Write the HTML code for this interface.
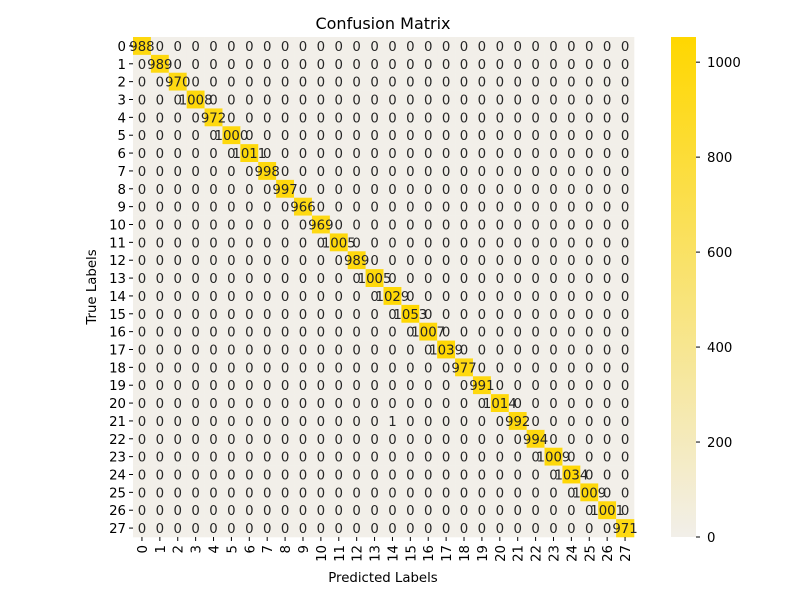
<!DOCTYPE html>
<html><head><meta charset="utf-8"><style>
body{margin:0;background:#fff;}
svg{font-family:"DejaVu Sans","Liberation Sans",sans-serif;}
</style></head><body>
<svg id="chart" width="800" height="600">
<defs><linearGradient id="cg" x1="0" y1="1" x2="0" y2="0"><stop offset="0" stop-color="#f2efe9"/><stop offset="1" stop-color="#ffd700"/></linearGradient></defs>
<text x="383" y="29" text-anchor="middle" font-size="16">Confusion Matrix</text>
<g id="cells"></g>
<g id="labels"></g>
<g id="axes"></g>
<text x="383" y="582" text-anchor="middle" font-size="13.3">Predicted Labels</text>
<text transform="translate(96,287) rotate(-90)" text-anchor="middle" font-size="13.3">True Labels</text>
<rect x="671" y="37" width="25" height="500" fill="url(#cg)"/>
<g id="cbticks"></g>
</svg>
<script>
const classes=[0,1,2,3,4,5,6,7,8,9,10,11,12,13,14,15,16,17,18,19,20,21,22,23,24,25,26,27];
const diagonalCounts=[988,989,970,1008,972,1000,1011,998,997,966,969,1005,989,1005,1029,1053,1007,1039,977,991,1014,992,994,1009,1034,1009,1001,971];
const offDiagonal=[[21,14,1]];
const colorbarTicks=[0,200,400,600,800,1000];
const vmax=1053;
const NS="http://www.w3.org/2000/svg";
const x0=133,y0=37,W=501,H=500,n=classes.length,cw=W/n,ch=H/n;
const cbTop=37,cbBot=537;
function xPos(i){return x0+i*cw;}
function yPos(i){return y0+i*ch;}
function cbY(v){return cbBot-(v/vmax)*(cbBot-cbTop);}
function color(v){const t=Math.min(1,v/vmax);const a=[242,239,233],b=[255,215,0];return`rgb(${a.map((c,k)=>Math.round(c+(b[k]-c)*t)).join(',')})`;}
const M=classes.map((_,r)=>classes.map((_,c)=>r===c?diagonalCounts[r]:0));
offDiagonal.forEach(([r,c,v])=>{M[r][c]=v;});
const cells=document.getElementById('cells'),labels=document.getElementById('labels'),axes=document.getElementById('axes'),cb=document.getElementById('cbticks');
function mk(tag,attrs,parent,txt){const e=document.createElementNS(NS,tag);for(const k in attrs)e.setAttribute(k,attrs[k]);if(txt!==undefined)e.textContent=txt;parent.appendChild(e);return e;}
for(let r=0;r<n;r++)for(let c=0;c<n;c++){
 const rc=mk('rect',{x:xPos(c),y:yPos(r),width:cw+0.3,height:ch+0.3,fill:color(M[r][c])},cells);
 
 
 const t=mk('text',{x:xPos(c)+cw/2,y:yPos(r)+ch/2+5,'text-anchor':'middle','font-size':'13.3',fill:'#262626'},labels,String(M[r][c]));
 
 
}
classes.forEach((cl,i)=>{
 mk('line',{x1:xPos(i)+cw/2,x2:xPos(i)+cw/2,y1:537,y2:541,stroke:'#000'},axes);
 const tx=mk('text',{transform:`translate(${xPos(i)+cw/2+5},${545}) rotate(-90)`,'text-anchor':'end','font-size':'13.3'},axes,String(cl));
 
 
 mk('line',{x1:129,x2:133,y1:yPos(i)+ch/2,y2:yPos(i)+ch/2,stroke:'#000'},axes);
 const ty=mk('text',{x:126,y:yPos(i)+ch/2+5,'text-anchor':'end','font-size':'13.3'},axes,String(cl));
 
 
});
colorbarTicks.forEach(v=>{
 mk('line',{x1:696,x2:700,y1:cbY(v),y2:cbY(v),stroke:'#000'},cb);
 const t=mk('text',{x:707,y:cbY(v)+5,'font-size':'13.3'},cb,String(v));
 
 
});
</script>
</body></html>
